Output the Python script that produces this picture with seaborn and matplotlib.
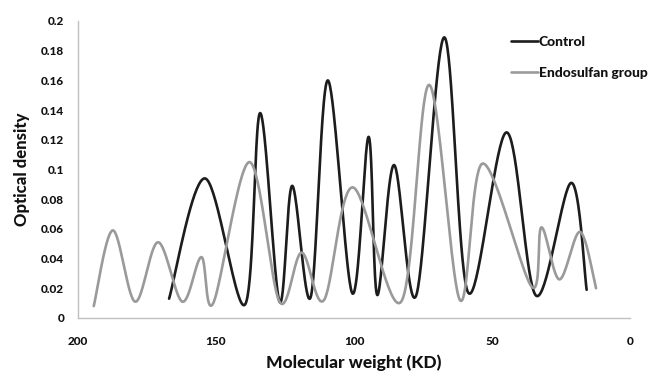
import numpy as np
import pandas as pd
import matplotlib
matplotlib.use("Agg")
import matplotlib.pyplot as plt
import seaborn as sns
from matplotlib.ticker import FuncFormatter

# Data (molecular weight in KD, optical density)
control_mw = [167, 154, 139.5, 134, 127, 122.4, 115.7, 109.5, 100.6, 94.7, 91.6,
              85.5, 77.5, 67.3, 58.6, 44.7, 34, 21.3, 15.7]
control_od = [0.013, 0.094, 0.009, 0.138, 0.011, 0.089, 0.014, 0.160, 0.0166, 0.122,
              0.0155, 0.103, 0.015, 0.189, 0.017, 0.125, 0.015, 0.091, 0.019]
endo_mw = [194.3, 187.4, 179.3, 171, 162.2, 155.3, 151, 137.9, 127, 119, 110.9,
           100.5, 82.9, 72.8, 61.6, 53.4, 35.6, 32.1, 25.6, 18.1, 12.3]
endo_od = [0.008, 0.059, 0.011, 0.051, 0.011, 0.041, 0.010, 0.105, 0.011, 0.044, 0.012,
           0.088, 0.011, 0.157, 0.012, 0.104, 0.021, 0.061, 0.026, 0.058, 0.020]
series_names = ["Control", "Endosulfan group"]
x_ticks = [200, 150, 100, 50, 0]
y_ticks = [0, 0.02, 0.04, 0.06, 0.08, 0.1, 0.12, 0.14, 0.16, 0.18, 0.2]


def smooth(xs, ys, n=40):
    """Excel-style smoothed line: cubic Bezier with Catmull-Rom tangents."""
    p = np.column_stack([xs, ys]).astype(float)
    out = [p[0]]
    t = np.linspace(0, 1, n)[1:, None]
    for i in range(len(p) - 1):
        p0 = p[i - 1] if i > 0 else p[i]
        p3 = p[i + 2] if i + 2 < len(p) else p[i + 1]
        c1 = p[i] + (p[i + 1] - p0) / 6.0
        c2 = p[i + 1] - (p3 - p[i]) / 6.0
        seg = ((1 - t) ** 3) * p[i] + 3 * ((1 - t) ** 2) * t * c1 + 3 * (1 - t) * t ** 2 * c2 + t ** 3 * p[i + 1]
        out.extend(seg)
    out = np.array(out)
    return out[:, 0], out[:, 1]


frames = []
for name, xs, ys in [(series_names[0], control_mw, control_od),
                     (series_names[1], endo_mw, endo_od)]:
    sx, sy = smooth(xs, ys)
    frames.append(pd.DataFrame({"mw": sx, "od": sy, "series": name}))
df = pd.concat(frames, ignore_index=True)

sns.set_theme(style="white")
plt.rcParams["font.family"] = ["Lato", "DejaVu Sans"]
W = "black"

fig = plt.figure(figsize=(6.49, 3.71), dpi=100)
ax = fig.add_axes([0.1202, 0.1429, 0.8505, 0.8005])

sns.lineplot(data=df, x="mw", y="od", hue="series", sort=False, estimator=None,
             palette={series_names[0]: "#1c1c1c", series_names[1]: "#9a9a9a"},
             linewidth=1.9, ax=ax)

ax.set_xlim(200, 0)
ax.set_ylim(0, 0.2)
ax.set_xticks(x_ticks)
ax.set_yticks(y_ticks)
ax.yaxis.set_major_formatter(FuncFormatter(lambda v, p: f"{v:g}"))

for s in ["top", "right"]:
    ax.spines[s].set_visible(False)
for s in ["left", "bottom"]:
    ax.spines[s].set_color("#c0c0c0")
    ax.spines[s].set_linewidth(1.0)
ax.tick_params(axis="both", which="major", direction="out", length=4, width=1,
               color="#c0c0c0", labelsize=8.5, labelcolor="#111111")
ax.tick_params(axis="x", pad=9)
ax.tick_params(axis="y", pad=6)
for lab in ax.get_xticklabels() + ax.get_yticklabels():
    lab.set_fontweight(W)

ax.set_xlabel("Molecular weight (KD)", fontsize=12.5, fontweight=W, labelpad=5,
              color="#111111")
ax.set_ylabel("Optical density", fontsize=12, fontweight=W, labelpad=8,
              color="#111111")

leg = ax.legend(loc="upper left", bbox_to_anchor=(0.757, 1.0), frameon=False,
                prop={"weight": W, "size": 10}, handlelength=1.9,
                handletextpad=0.1, labelspacing=1.35, borderaxespad=0.7)
for t in leg.get_texts():
    t.set_color("#111111")
for h in leg.get_lines():
    h.set_linewidth(1.9)

fig.savefig("out.png", dpi=100)
